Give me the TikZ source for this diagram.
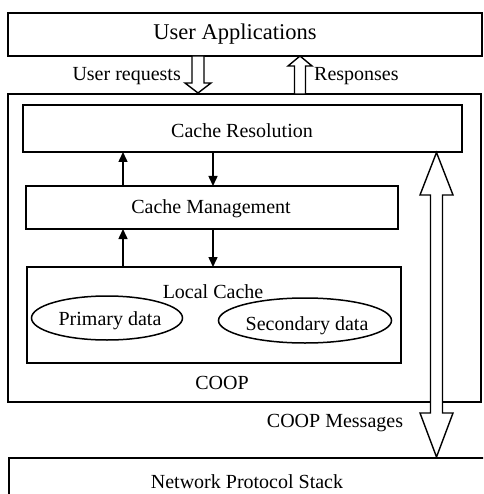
\documentclass[tikz,border=0pt]{standalone}
\usepackage{fontspec}
\setmainfont{Liberation Serif}
\usetikzlibrary{arrows.meta,shapes.geometric}
\begin{document}
\begin{tikzpicture}[x=1pt,y=-1pt,
  font=\fontsize{20}{24}\selectfont,
  box/.style={draw,line width=1.5pt,rectangle,inner sep=0pt},
  oval/.style={draw,line width=1.5pt,ellipse,inner sep=0pt},
  lbl/.style={inner sep=0pt},
  sarrow/.style={line width=1.5pt,-{Triangle[length=10pt,width=9pt]}},
  hollow/.style={draw,line width=1.4pt,fill=white,line join=miter}]
\clip (0,0) rectangle (483,494);
\fill[white] (0,0) rectangle (483,494);
% boxes
\node[box,minimum width=474pt,minimum height=43pt] (ua) at (245,34.5) {};
\node[lbl,font=\fontsize{22.5}{26}\selectfont] (ual) at (235,34) {User Applications};
\node[box,minimum width=473pt,minimum height=308pt] (coop) at (244.5,248) {};
\node[lbl] (coopl) at (222,383) {COOP};
\node[box,minimum width=439pt,minimum height=47pt] (cr) at (242.5,128.5) {};
\node[lbl] (crl) at (242,131) {Cache Resolution};
\node[box,minimum width=372pt,minimum height=43pt] (cm) at (212,207.5) {};
\node[lbl] (cml) at (211,209) {Cache Management};
\node[box,minimum width=374pt,minimum height=96pt] (lc) at (214,315) {};
\node[lbl] (lcl) at (213,292) {Local Cache};
\node[oval,minimum width=151pt,minimum height=44pt] (pd) at (107,318) {};
\node[lbl] (pdl) at (110,321) {Primary data};
\node[oval,minimum width=173pt,minimum height=45pt] (sd) at (305,320.5) {};
\node[lbl] (sdl) at (307,326) {Secondary data};
\node[box,minimum width=520pt,minimum height=80pt,anchor=north west] (nps) at (8,457) {};
\node[lbl] (npsl) at (247,482) {Network Protocol Stack};
% small arrows
\coordinate (a1) at (123,186); \coordinate (a1e) at (123,152);
\coordinate (a2) at (213,152); \coordinate (a2e) at (213,186);
\coordinate (a3) at (123,267); \coordinate (a3e) at (123,229);
\coordinate (a4) at (213,229); \coordinate (a4e) at (213,267);
\draw[sarrow] (a1) -- (a1e);
\draw[sarrow] (a2) -- (a2e);
\draw[sarrow] (a3) -- (a3e);
\draw[sarrow] (a4) -- (a4e);
% user requests / responses hollow arrows
\draw[hollow] (192,56) -- (204,56) -- (204,83) -- (211,83) -- (198,93) -- (185,83) -- (192,83) -- cycle;
\node[lbl,anchor=east] (urq) at (181,76) {User requests};
\draw[hollow] (294.5,94) -- (305.5,94) -- (305.5,66) -- (312,66) -- (300,56) -- (288,66) -- (294.5,66) -- cycle;
\node[lbl,anchor=west] (rsp) at (314,76) {Responses};
% COOP messages double arrow
\draw[hollow] (436.5,152.5) -- (453,195) -- (442.5,195) -- (442.5,413) -- (453,413) -- (436.5,457)
  -- (420,413) -- (430.5,413) -- (430.5,195) -- (420,195) -- cycle;
\node[lbl] (cmsg) at (335,423) {COOP Messages};
\end{tikzpicture}
\end{document}
